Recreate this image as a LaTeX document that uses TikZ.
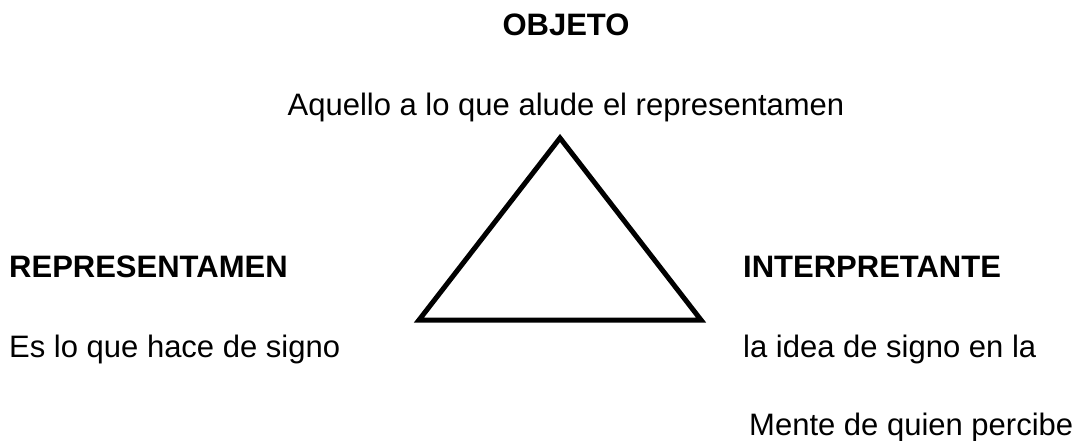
\documentclass[tikz,border=0pt]{standalone}
\usepackage{fontspec}
\setmainfont{Liberation Sans}
\usetikzlibrary{positioning}
\tikzstyle{heading} = [inner sep=0pt, font=\fontsize{31}{37}\selectfont\bfseries]
\tikzstyle{desc} = [inner sep=0pt, font=\fontsize{31}{37}\selectfont]
\tikzstyle{sign} = [draw, line width=5pt, line join=miter, color=black]

\begin{document}
\begin{tikzpicture}[x=1pt, y=1pt]

  \useasboundingbox (0,0) rectangle (1083,-441);

  %%%%%%%%%%%%%%%%%%%%%%%%%%%%%%%%%%%%%%%%%%%%%%%%%%%%%%%%%%%%%%
  %                    OBJETO                                  %
  %%%%%%%%%%%%%%%%%%%%%%%%%%%%%%%%%%%%%%%%%%%%%%%%%%%%%%%%%%%%%%

  \node [heading, anchor=base] at (566,-36) (objeto) {OBJETO};
  \node [desc, below = 79pt of objeto.base, anchor=base] (objeto-desc) {Aquello a lo que alude el representamen};

  %%%%%%%%%%%%%%%%%%%%%%%%%%%%%%%%%%%%%%%%%%%%%%%%%%%%%%%%%%%%%%
  %                    REPRESENTAMEN                           %
  %%%%%%%%%%%%%%%%%%%%%%%%%%%%%%%%%%%%%%%%%%%%%%%%%%%%%%%%%%%%%%

  \node [heading, anchor=base west] at (9,-277) (representamen) {REPRESENTAMEN};
  \node [desc, below = 80pt of representamen.base west, anchor=base west] (representamen-desc) {Es lo que hace de signo};

  %%%%%%%%%%%%%%%%%%%%%%%%%%%%%%%%%%%%%%%%%%%%%%%%%%%%%%%%%%%%%%
  %                    INTERPRETANTE                           %
  %%%%%%%%%%%%%%%%%%%%%%%%%%%%%%%%%%%%%%%%%%%%%%%%%%%%%%%%%%%%%%

  \node [heading, anchor=base west] at (743,-277) (interpretante) {INTERPRETANTE};
  \node [desc, below = 80pt of interpretante.base west, anchor=base west] (interpretante-desc) {la idea de signo en la};
  \node [desc, below = 78pt of interpretante-desc.base west, xshift=6pt, anchor=base west] (interpretante-desc-2) {Mente de quien percibe};

  %%%%%%%%%%%%%%%%%%%%%%%%%%%%%%%%%%%%%%%%%%%%%%%%%%%%%%%%%%%%%%
  %                    TRIANGULO                               %
  %%%%%%%%%%%%%%%%%%%%%%%%%%%%%%%%%%%%%%%%%%%%%%%%%%%%%%%%%%%%%%

  \coordinate (apex) at (560,-138);
  \coordinate (corner-left) at (419,-320);
  \coordinate (corner-right) at (701,-320);
  \draw[sign] (apex) -- (corner-left) -- (corner-right) -- cycle;

\end{tikzpicture}
\end{document}
